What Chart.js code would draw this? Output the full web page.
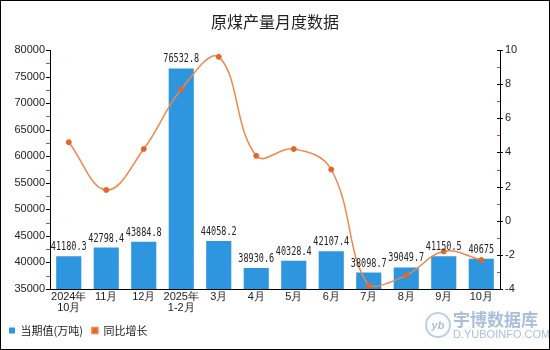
<!DOCTYPE html>
<html>
<head>
<meta charset="utf-8">
<script src="https://cdn.jsdelivr.net/npm/chart.js@4"></script>
<style>
  html, body { margin: 0; padding: 0; background: #fff; }
  #box { width: 550px; height: 350px; position: relative; }
</style>
</head>
<body>
<div id="box"><canvas id="graficoCarbon" width="550" height="350"></canvas></div>
<script>
const meses = [["2024年", "10月"], "11月", "12月", ["2025年", "1-2月"], "3月", "4月", "5月", "6月", "7月", "8月", "9月", "10月"];
const produccion = [41180.3, 42798.4, 43884.8, 76532.8, 44058.2, 38930.6, 40328.4, 42107.4, 38098.7, 39049.7, 41150.5, 40675];
const crecimiento = [4.6, 1.8, 4.2, 7.7, 9.6, 3.8, 4.2, 3.0, -3.8, -3.2, -1.8, -2.3];
const ticksIzq = [35000, 40000, 45000, 50000, 55000, 60000, 65000, 70000, 75000, 80000];
const ticksDer = [-4, -2, 0, 2, 4, 6, 8, 10];

const fuente = "'Liberation Sans', Arial, sans-serif";
const fuenteCJK = "'Noto Sans CJK SC', sans-serif";

// etiquetas encima de las barras, marcas menores, marca de agua y borde
const extras = {
    id: 'extras',
    afterDatasetsDraw(chart) {
        const ctx = chart.ctx;
        const meta = chart.getDatasetMeta(0);
        ctx.save();
        ctx.font = "12.5px 'DejaVu Sans Mono', 'Liberation Mono', monospace";
        ctx.fillStyle = '#222';
        ctx.textAlign = 'center';
        ctx.textBaseline = 'bottom';
        meta.data.forEach((bar, i) => {
            ctx.save();
            ctx.translate(bar.x, bar.y - 3);
            ctx.scale(0.68, 1);
            ctx.fillText(String(produccion[i]), 0, 0);
            ctx.restore();
        });
        ctx.restore();
    },
    afterDraw(chart) {
        const ctx = chart.ctx;
        const y = chart.scales.y;
        const y1 = chart.scales.y1;
        ctx.save();
        ctx.lineWidth = 1;
        // eje izquierdo
        ticksIzq.forEach(v => {
            const py = Math.round(y.getPixelForValue(v)) + 0.5;
            ctx.strokeStyle = '#000';
            ctx.beginPath(); ctx.moveTo(y.right - 4, py); ctx.lineTo(y.right, py); ctx.stroke();
            if (v < 80000) {
                const pm = Math.round(y.getPixelForValue(v + 2500)) + 0.5;
                ctx.strokeStyle = '#e0403a';
                ctx.beginPath(); ctx.moveTo(y.right - 4, pm); ctx.lineTo(y.right, pm); ctx.stroke();
            }
        });
        // eje derecho
        ticksDer.forEach(v => {
            const py = Math.round(y1.getPixelForValue(v)) + 0.5;
            ctx.strokeStyle = '#000';
            ctx.beginPath(); ctx.moveTo(y1.left - 3, py); ctx.lineTo(y1.left + 3, py); ctx.stroke();
            if (v < 10) {
                const pm = Math.round(y1.getPixelForValue(v + 1)) + 0.5;
                ctx.strokeStyle = '#e0403a';
                ctx.beginPath(); ctx.moveTo(y1.left - 3, pm); ctx.lineTo(y1.left, pm); ctx.stroke();
            }
        });
        // marca de agua
        ctx.globalAlpha = 0.6;
        ctx.strokeStyle = '#8fb0d8';
        ctx.lineWidth = 2;
        ctx.beginPath(); ctx.arc(438, 325, 12, 0, Math.PI * 2); ctx.stroke();
        ctx.fillStyle = '#6f93c4';
        ctx.font = "italic bold 11px " + fuente;
        ctx.textAlign = 'center';
        ctx.textBaseline = 'middle';
        ctx.fillText('yb', 438, 326);
        ctx.textAlign = 'left';
        ctx.font = "bold 17px " + fuenteCJK;
        ctx.fillText('宇博数据库', 453, 320);
        ctx.font = "11px " + fuente;
        ctx.fillText('D.YUBOINFO.COM', 453, 335);
        ctx.globalAlpha = 1;
        // borde
        ctx.strokeStyle = '#000';
        ctx.lineWidth = 1;
        ctx.strokeRect(0.5, 0.5, chart.width - 1, chart.height - 1);
        ctx.restore();
    }
};

const graficoCarbon = new Chart('graficoCarbon', {
    type: 'bar',
    data: {
        labels: meses,
        datasets: [{
            type: 'bar',
            label: '当期值(万吨)',
            data: produccion,
            backgroundColor: '#2e96df',
            barPercentage: 0.67,
            categoryPercentage: 1,
            yAxisID: 'y',
            order: 2
        }, {
            type: 'line',
            label: '同比增长',
            data: crecimiento,
            borderColor: '#f0874f',
            backgroundColor: '#e2682a',
            pointBackgroundColor: '#e2682a',
            pointBorderColor: '#e2682a',
            pointRadius: 2.5,
            pointBorderWidth: 1,
            borderWidth: 1.5,
            tension: 0.4,
            yAxisID: 'y1',
            order: 1
        }]
    },
    options: {
        responsive: false,
        animation: false,
        layout: { padding: { top: 0, left: 0, right: 0, bottom: 4 } },
        plugins: {
            title: {
                display: true,
                text: '原煤产量月度数据',
                color: '#222',
                font: { family: fuenteCJK, size: 16, weight: 'normal' },
                padding: { top: 12, bottom: 18.8 }
            },
            legend: {
                position: 'bottom',
                align: 'start',
                labels: {
                    boxWidth: 6,
                    boxHeight: 6,
                    padding: 9,
                    color: '#222',
                    font: { family: fuenteCJK, size: 11 },
                    sort: (a, b) => a.datasetIndex - b.datasetIndex
                }
            },
            tooltip: { enabled: false }
        },
        scales: {
            x: {
                grid: { display: false, drawTicks: false },
                border: { display: true, color: '#000' },
                ticks: { color: '#222', font: { family: fuente, size: 11, lineHeight: 1 }, maxRotation: 0, autoSkip: false, padding: 2 },
                afterFit(scale) { scale.height = 27; }
            },
            y: {
                position: 'left',
                min: 35000,
                max: 80000,
                afterBuildTicks(scale) { scale.ticks = ticksIzq.map(v => ({ value: v })); },
                grid: { display: false, drawTicks: false },
                border: { display: true, color: '#000' },
                ticks: { color: '#222', font: { family: fuente, size: 11 }, padding: 5, callback: v => String(v) },
                afterFit(scale) { scale.width = 50; }
            },
            y1: {
                position: 'right',
                min: -4,
                max: 10,
                afterBuildTicks(scale) { scale.ticks = ticksDer.map(v => ({ value: v })); },
                grid: { display: false, drawTicks: false },
                border: { display: true, color: '#000' },
                ticks: { color: '#222', font: { family: fuente, size: 11 }, padding: 5, callback: v => String(v) },
                afterFit(scale) { scale.width = 50; }
            }
        }
    },
    plugins: [extras]
});
</script>
</body>
</html>
